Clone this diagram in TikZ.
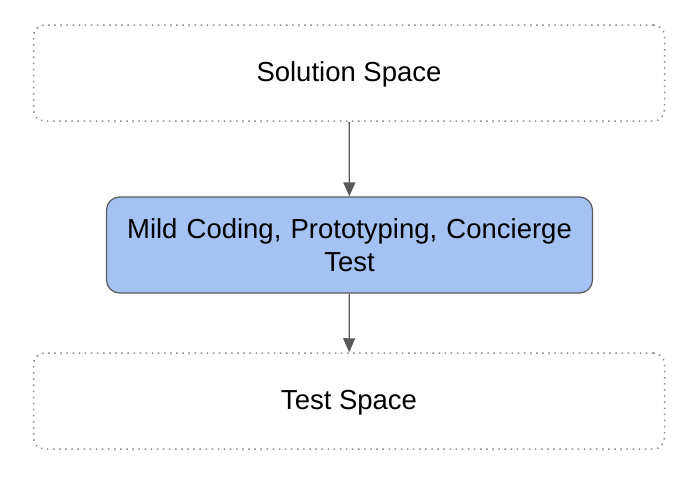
\documentclass[tikz,border=0pt]{standalone}
\usepackage{fontspec}
\setmainfont{Liberation Sans}
\usepackage{tikz}
\usetikzlibrary{calc, arrows.meta}
\definecolor{boxblue}{HTML}{A4C2F4}
\definecolor{linegray}{HTML}{595959}
\definecolor{dotgray}{HTML}{8C8C8C}

\begin{document}
\begin{tikzpicture}[
		x=1pt, y=-1pt,
		space/.style={draw=dotgray, line width=1.5pt, dash pattern=on 1.5pt off 4.6pt,
			rounded corners=11pt, minimum width=631pt, minimum height=96pt,
			text height=20pt, text depth=3pt,
			font=\fontsize{27.5}{33}\selectfont},
		stage/.style={draw=linegray, fill=boxblue, line width=1.2pt, rounded corners=13pt,
			minimum width=486pt, minimum height=96pt, text width=470pt, align=center,
			font=\fontsize{27.5}{33.5}\selectfont},
		flow/.style={draw=linegray, line width=1.3pt, -{Triangle[length=14pt,width=12pt]}}]
		\useasboundingbox (0,0) rectangle (696,485);
		\node[space] (sol)  at (349,73)    {Solution Space};
		\node[stage] (mild) at (349.5,245) {Mild Coding, Prototyping, Concierge\\Test};
		\node[space] (test) at (349,401)   {Test Space};
		\draw[flow] (sol) -- (mild);
		\draw[flow] (mild) -- (test);
\end{tikzpicture}
\end{document}
